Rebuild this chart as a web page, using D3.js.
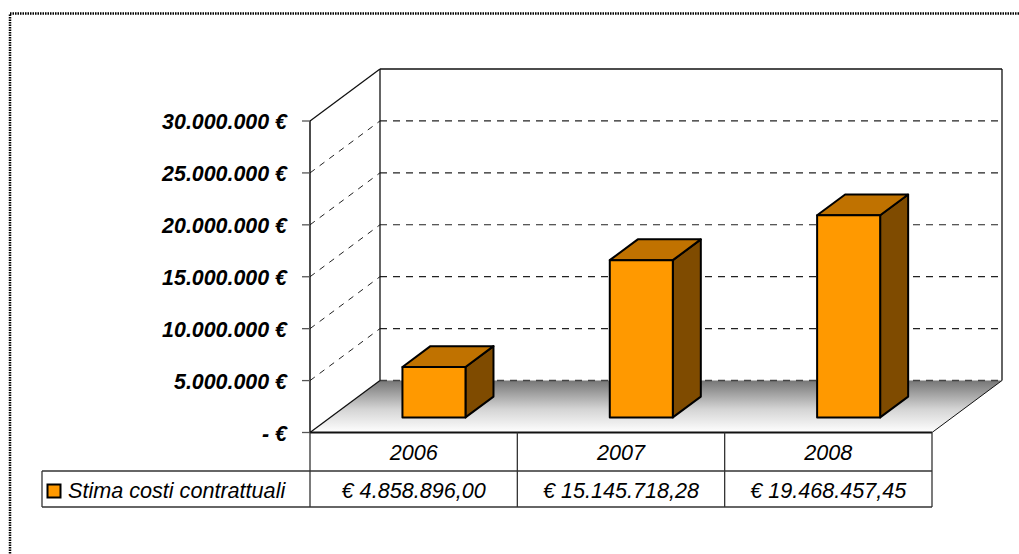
<!DOCTYPE html>
<html>
<head>
<meta charset="utf-8">
<script src="https://cdn.jsdelivr.net/npm/d3@7"></script>
<style>
  body { margin: 0; background: #fff; }
  svg { display: block; font-family: "Liberation Sans", Arial, sans-serif; }
</style>
</head>
<body>
<svg id="chart" width="1019" height="554"></svg>
<script>
// data
const years = ["2006", "2007", "2008"];
const costs = [4858896.0, 15145718.28, 19468457.45];
const costLabels = ["€ 4.858.896,00", "€ 15.145.718,28", "€ 19.468.457,45"];
const seriesName = "Stima costi contrattuali";
const yTicks = [0, 5000000, 10000000, 15000000, 20000000, 25000000, 30000000];
const yTickLabels = ["- €", "5.000.000 €", "10.000.000 €", "15.000.000 €", "20.000.000 €", "25.000.000 €", "30.000.000 €"];

const svg = d3.select("#chart");

// 3d box geometry
const depthX = 70, depthY = -52;
const x = d3.scaleBand().domain(years).range([310, 932]);
const y = d3.scaleLinear().domain([0, 30000000]).range([432.5, 121]);
const P = (px, v, d) => [px + d * depthX, y(v) + d * depthY];
const line = (a, b) => svg.append("line")
  .attr("x1", a[0]).attr("y1", a[1]).attr("x2", b[0]).attr("y2", b[1]);

// outer dotted border (chart area larger than the picture)
svg.append("rect")
  .attr("x", 10).attr("y", 13.5).attr("width", 1030).attr("height", 600)
  .attr("fill", "none").attr("stroke", "#000").attr("stroke-width", 2.5)
  .attr("stroke-dasharray", "1.5,1");

const defs = svg.append("defs");
const grad = defs.append("linearGradient").attr("id", "floorGrad")
  .attr("x1", 0).attr("y1", 0).attr("x2", 0).attr("y2", 1);
grad.append("stop").attr("offset", "0%").attr("stop-color", "#767676");
grad.append("stop").attr("offset", "55%").attr("stop-color", "#d4d4d4");
grad.append("stop").attr("offset", "100%").attr("stop-color", "#ffffff");

const x0 = x.range()[0], x1 = x.range()[1];
const yMax = y.domain()[1];

// floor
const floorPts = [P(x0, 0, 0), P(x1, 0, 0), P(x1, 0, 1), P(x0, 0, 1)];
svg.append("polygon")
  .attr("points", floorPts.map(p => p.join(",")).join(" "))
  .attr("fill", "url(#floorGrad)").attr("stroke", "none");

// gridlines: back wall + side wall
yTicks.forEach(t => {
  if (t === 0 || t === yMax) return;
  line(P(x0, t, 1), P(x1, t, 1))
    .attr("stroke", "#222").attr("stroke-width", 1.2).attr("stroke-dasharray", "7,6");
  line(P(x0, t, 0), P(x0, t, 1))
    .attr("stroke", "#222").attr("stroke-width", 1).attr("stroke-dasharray", "6,6");
});
line(P(x0, 0, 1), P(x1, 0, 1))
  .attr("stroke", "#444").attr("stroke-width", 1.5).attr("stroke-dasharray", "7,6");

// wall edges
const edge = (a, b, w) => line(a, b).attr("stroke", "#111").attr("stroke-width", w || 1.3);
edge(P(x0, yMax, 0), P(x0, yMax, 1));
edge(P(x0, yMax, 1), P(x1, yMax, 1));
edge(P(x1, yMax, 1), P(x1, 0, 1));
edge(P(x0, yMax, 1), P(x0, 0, 1));
edge(P(x0, 0, 0), P(x0, 0, 1));
edge(P(x1, 0, 0), P(x1, 0, 1), 1);
edge(P(x0, yMax, 0), P(x0, 0, 0), 1.5);

// bars
const barFrac = 0.304, d0 = 0.29, d1 = 0.69;
years.forEach((yr, i) => {
  const v = costs[i];
  const bw = x.bandwidth() * barFrac;
  const left = x(yr) + (x.bandwidth() - bw) / 2, right = left + bw;
  const poly = (pts, fill) => svg.append("polygon")
    .attr("points", pts.map(p => p.join(",")).join(" "))
    .attr("fill", fill).attr("stroke", "#000").attr("stroke-width", 2)
    .attr("stroke-linejoin", "round");
  poly([P(right, 0, d0), P(right, v, d0), P(right, v, d1), P(right, 0, d1)], "#7f4b00");
  poly([P(left, v, d0), P(right, v, d0), P(right, v, d1), P(left, v, d1)], "#c07200");
  poly([P(left, 0, d0), P(right, 0, d0), P(right, v, d0), P(left, v, d0)], "#ff9900");
});

// front floor edge
edge(P(x0, 0, 0), P(x1, 0, 0), 2);

// y axis ticks and labels
yTicks.forEach((t, i) => {
  line([302, y(t)], [x0, y(t)]).attr("stroke", "#555").attr("stroke-width", 1.3);
  svg.append("text")
    .attr("x", 287).attr("y", y(t) + 8)
    .attr("text-anchor", "end")
    .attr("font-size", 21.4).attr("font-weight", "bold").attr("font-style", "italic")
    .attr("fill", "#000")
    .text(yTickLabels[i]);
});

// data table
const rowTop = y(0), rowMid = 471, rowBot = 507, legLeft = 42;
const tline = (a, b) => line(a, b).attr("stroke", "#333").attr("stroke-width", 1.3);
tline([x0, rowTop], [x0, rowBot]);
years.forEach(yr => tline([x(yr) + x.bandwidth(), rowTop], [x(yr) + x.bandwidth(), rowBot]));
tline([legLeft, rowMid], [x1, rowMid]);
tline([legLeft, rowBot], [x1, rowBot]);
tline([legLeft, rowMid], [legLeft, rowBot]);

years.forEach((yr, i) => {
  const cx = x(yr) + x.bandwidth() / 2;
  svg.append("text")
    .attr("x", cx).attr("y", 459.5)
    .attr("text-anchor", "middle").attr("font-size", 21.6).attr("font-style", "italic")
    .text(yr);
  svg.append("text")
    .attr("x", cx).attr("y", 497.5)
    .attr("text-anchor", "middle").attr("font-size", 21.6).attr("font-style", "italic")
    .text(costLabels[i]);
});

// legend key
svg.append("rect")
  .attr("x", 47.5).attr("y", 484.5).attr("width", 13).attr("height", 13)
  .attr("fill", "#ff9900").attr("stroke", "#000").attr("stroke-width", 2);
svg.append("text")
  .attr("x", 68).attr("y", 497.5)
  .attr("font-size", 21.6).attr("font-style", "italic")
  .text(seriesName);
</script>
</body>
</html>
